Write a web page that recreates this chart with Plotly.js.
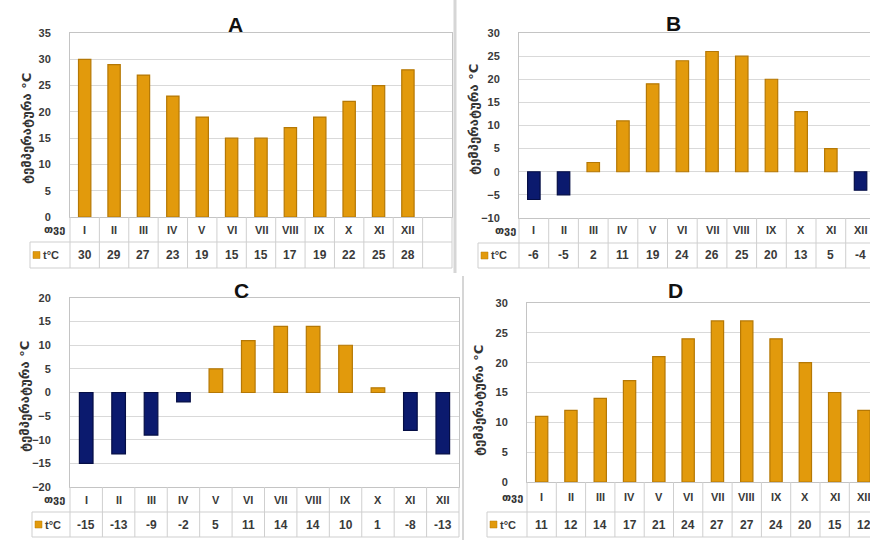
<!DOCTYPE html>
<html>
<head>
<meta charset="utf-8">
<script src="https://cdn.plot.ly/plotly-3.0.1.min.js"></script>
<style>html,body{margin:0;padding:0;background:#fff;}#chart{width:870px;height:540px;}</style>
</head>
<body>
<div id="chart"></div>
<script>
// ---- data ----
const months = ['I','II','III','IV','V','VI','VII','VIII','IX','X','XI','XII'];
const tempA = [30, 29, 27, 23, 19, 15, 15, 17, 19, 22, 25, 28];
const tempB = [-6, -5, 2, 11, 19, 24, 26, 25, 20, 13, 5, -4];
const tempC = [-15, -13, -9, -2, 5, 11, 14, 14, 10, 1, -8, -13];
const tempD = [11, 12, 14, 17, 21, 24, 27, 27, 24, 20, 15, 12];
const panelTitles = ['A', 'B', 'C', 'D'];
const yTitle = 'ტემპერატურა °C';
const monthLabel = 'თვე';
const seriesLabel = 't°C';

// ---- layout geometry (pixels) ----
const W = 870, H = 540;
const ORANGE = '#E29A0C', ORANGE_LINE = '#B57805';
const NAVY = '#0B1A6E', NAVY_LINE = '#050E45';
const panels = [
  {data: tempA, L: 70,  R: 452, T: 33,  B: 217, yr: [0, 35],   xr: [-0.5, 12.5],   r1: 242, r2: 268, cellL: 30,  lblR: 67,  tt: [235, 25], yt: [26, 129]},
  {data: tempB, L: 519, R: 870, T: 33,  B: 218, yr: [-10, 30], xr: [-0.5, 11.318], r1: 243, r2: 268, cellL: 478, lblR: 518, tt: [673, 23], yt: [473, 120]},
  {data: tempC, L: 70,  R: 459, T: 298, B: 487, yr: [-20, 20], xr: [-0.5, 11.5],   r1: 512, r2: 537, cellL: 32,  lblR: 67,  tt: [242, 290], yt: [24, 397]},
  {data: tempD, L: 527, R: 870, T: 303, B: 482, yr: [0, 30],   xr: [-0.5, 11.206], r1: 512, r2: 537, cellL: 487, lblR: 525, tt: [675, 290], yt: [478, 400]}
];

const px = x => x / W;
const py = y => 1 - y / H;
const GRID = '#d9d9d9', BORDER = '#c4c4c4', TABLE = '#cfcfcf';
const numFont = {family: 'Liberation Sans, Arial, sans-serif', size: 11, color: '#3a3a3a', weight: 'bold'};
const geoFont = {family: 'DejaVu Sans, sans-serif', size: 13, color: '#333', weight: 'bold'};

const traces = [];
const layout = {
  width: W, height: H, margin: {l: 0, r: 0, t: 0, b: 0},
  paper_bgcolor: '#fff', plot_bgcolor: '#fff',
  showlegend: false,
  shapes: [], annotations: []
};

function line(x0, y0, x1, y1, color, w) {
  layout.shapes.push({type: 'line', xref: 'paper', yref: 'paper',
    x0: px(x0), y0: py(y0), x1: px(x1), y1: py(y1),
    line: {color: color || TABLE, width: w || 1}});
}

panels.forEach((p, i) => {
  const n = i === 0 ? '' : String(i + 1);
  const xa = 'x' + n, ya = 'y' + n;
  traces.push({
    type: 'bar', x: months, y: p.data, xaxis: xa, yaxis: ya, width: 0.42,
    marker: {
      color: p.data.map(v => v < 0 ? NAVY : ORANGE),
      line: {color: p.data.map(v => v < 0 ? NAVY_LINE : ORANGE_LINE), width: 1.2}
    },
    hoverinfo: 'x+y'
  });
  layout['xaxis' + n] = {
    domain: [px(p.L), px(p.R)], anchor: ya, type: 'category', range: p.xr,
    showticklabels: false, showgrid: false, zeroline: false,
    showline: true, mirror: true, linecolor: BORDER, ticks: '', fixedrange: true
  };
  layout['yaxis' + n] = {
    domain: [py(p.B), py(p.T)], anchor: xa, range: p.yr, dtick: 5,
    showgrid: true, gridcolor: GRID, gridwidth: 1,
    zeroline: true, zerolinecolor: GRID, zerolinewidth: 1,
    showline: true, mirror: true, linecolor: BORDER,
    ticks: 'outside', ticklen: 16, tickcolor: 'rgba(0,0,0,0)',
    tickfont: numFont, fixedrange: true
  };

  // table grid
  const colPx = v => p.L + (v - p.xr[0]) / (p.xr[1] - p.xr[0]) * (p.R - p.L);
  const nCols = Math.ceil(p.xr[1] - p.xr[0] - 1e-6);
  for (let k = 0; k <= nCols; k++) {
    const x = colPx(-0.5 + k);
    if (x <= W + 0.5) line(Math.min(x, W - 0.5), p.B, Math.min(x, W - 0.5), p.r2);
  }
  line(p.L, p.r1, p.R, p.r1);
  line(p.cellL, p.r1, p.L, p.r1);
  line(p.cellL, p.r2, p.R, p.r2);
  line(p.cellL, p.r1, p.cellL, p.r2);

  // month labels and values
  months.forEach((m, j) => {
    layout.annotations.push({xref: xa, yref: 'paper', x: m, y: py((p.B + p.r1) / 2),
      text: m, showarrow: false, font: numFont, xanchor: 'center', yanchor: 'middle'});
    layout.annotations.push({xref: xa, yref: 'paper', x: m, y: py((p.r1 + p.r2) / 2),
      text: String(p.data[j]), showarrow: false, font: Object.assign({}, numFont, {size: 12}),
      xanchor: 'center', yanchor: 'middle'});
  });

  // row labels
  layout.annotations.push({xref: 'paper', yref: 'paper', x: px(p.lblR), y: py((p.B + p.r1) / 2),
    text: monthLabel, showarrow: false, font: Object.assign({}, geoFont, {size: 11}), xanchor: 'right', yanchor: 'middle'});
  const ym = (p.r1 + p.r2) / 2;
  layout.shapes.push({type: 'rect', xref: 'paper', yref: 'paper',
    x0: px(p.cellL + 3), x1: px(p.cellL + 10), y0: py(ym + 3.5), y1: py(ym - 3.5),
    fillcolor: ORANGE, line: {color: ORANGE_LINE, width: 0.5}});
  layout.annotations.push({xref: 'paper', yref: 'paper', x: px(p.cellL + 11), y: py(ym),
    text: seriesLabel, showarrow: false, font: numFont, xanchor: 'left', yanchor: 'middle'});

  // panel title
  layout.annotations.push({xref: 'paper', yref: 'paper', x: px(p.tt[0]), y: py(p.tt[1]),
    text: panelTitles[i], showarrow: false,
    font: {family: 'Liberation Sans, Arial, sans-serif', size: 21, color: '#111', weight: 'bold'},
    xanchor: 'center', yanchor: 'middle'});
  // y axis title
  layout.annotations.push({xref: 'paper', yref: 'paper', x: px(p.yt[0]), y: py(p.yt[1]),
    text: yTitle, textangle: -90, showarrow: false, font: geoFont,
    xanchor: 'center', yanchor: 'middle'});
});

// panel separators
line(455, 0, 455, 273, '#d6d6d6', 3);
line(463, 276, 463, 540, '#d6d6d6', 2);

Plotly.newPlot('chart', traces, layout, {displayModeBar: false, staticPlot: true});
</script>
</body>
</html>
